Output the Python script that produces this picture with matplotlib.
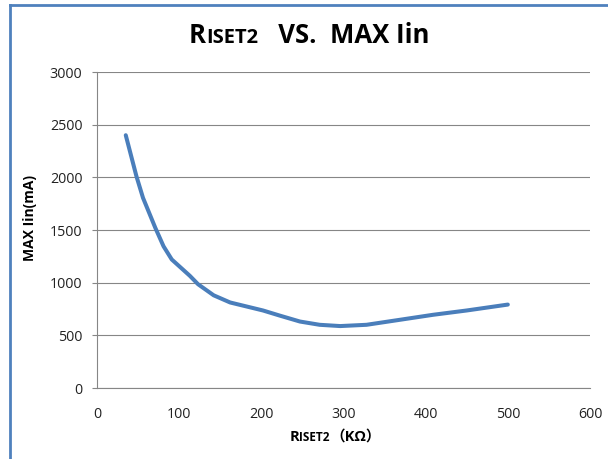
import matplotlib
matplotlib.use('Agg')
import matplotlib.pyplot as plt
from matplotlib.lines import Line2D

# values
riset2 = [35, 48, 56, 71, 81, 91, 113, 123, 142, 162, 182, 202, 223, 247,
          271, 296, 328, 369, 409, 450, 500]
max_iin = [2400, 2010, 1805, 1520, 1345, 1220, 1065, 985, 880, 812, 774, 736,
           686, 631, 600, 588, 600, 648, 695, 736, 792]
x_ticks = [0, 100, 200, 300, 400, 500, 600]
y_ticks = [0, 500, 1000, 1500, 2000, 2500, 3000]

W, H = 608, 459
fig = plt.figure(figsize=(W / 100, H / 100), dpi=100)
ax = fig.add_axes([97 / W, 1 - 388 / H, (590 - 97) / W, (388 - 72) / H])

ax.plot(riset2, max_iin, color='#4a7ebb', linewidth=2.9, solid_capstyle='round',
        solid_joinstyle='round')

ax.set_xlim(0, 600)
ax.set_ylim(0, 3000)
ax.set_xticks(x_ticks)
ax.set_yticks(y_ticks)
ax.yaxis.grid(True, color='#868686', linewidth=0.8)
ax.set_axisbelow(True)
for side in ['top', 'right']:
    ax.spines[side].set_visible(False)
for side in ['left', 'bottom']:
    ax.spines[side].set_color('#868686')
    ax.spines[side].set_linewidth(0.8)
ax.tick_params(axis='y', length=3.6, width=0.8, color='#868686', pad=7,
               labelsize=10.3, labelcolor='#222222')
ax.tick_params(axis='x', length=0, pad=14, labelsize=10.3, labelcolor='#222222')
for lab in ax.get_xticklabels() + ax.get_yticklabels():
    lab.set_family('Open Sans')

# blue frame fragments at left and top
fig.add_artist(Line2D([10 / W, 10 / W], [0, 1 - 5 / H], transform=fig.transFigure,
                      color='#4f81bd', linewidth=2))
fig.add_artist(Line2D([10 / W, 1], [1 - 5 / H, 1 - 5 / H], transform=fig.transFigure,
                      color='#4f81bd', linewidth=2))


def chain(parts, cx, base_y):
    # parts: list of (text, size); lay them out on one baseline, centred at cx
    fig.canvas.draw()
    r = fig.canvas.get_renderer()
    texts = []
    widths = []
    for s, size in parts:
        t = fig.text(0, base_y / H, s, fontsize=size, fontweight='bold',
                     family=['Open Sans', 'Noto Sans CJK SC'],
                     va='baseline', ha='left', color='black')
        widths.append(t.get_window_extent(r).width)
        texts.append(t)
    x = cx - sum(widths) / 2
    for t, w in zip(texts, widths):
        t.set_x(x / W)
        x += w


chain([('R', 18.5), ('ISET2', 14.5), ('   VS.  MAX Iin', 18.5)], 309, H - 43)
chain([('R', 10.5), ('ISET2', 8.5), ('（KΩ）', 10.5)], 335, H - 441)

fig.text(30 / W, 1 - 218 / H, 'MAX Iin(mA)', rotation=90, fontsize=10,
         fontweight='bold', family='Open Sans', ha='center', va='center')

fig.savefig('out.png', dpi=100)
